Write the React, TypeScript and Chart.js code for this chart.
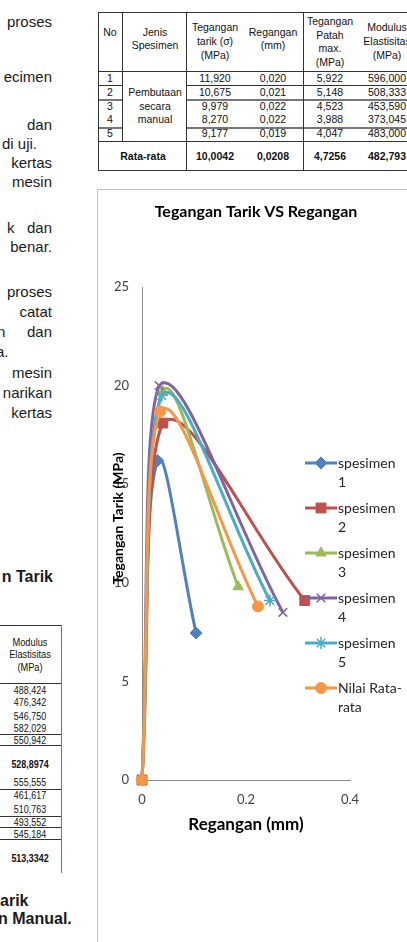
import React, { useEffect, useRef } from 'react';
import { Chart, registerables } from 'chart.js';
import { drawPoint } from 'chart.js/helpers';

Chart.register(...registerables);

// ---- chart data: stress (MPa) against strain (mm) for each specimen ----
const seriesNames = ['spesimen 1', 'spesimen 2', 'spesimen 3', 'spesimen 4', 'spesimen 5', 'Nilai Rata-rata'];

const strainS1 = [0, 0.03, 0.104];
const stressS1 = [0, 16.2, 7.45];

const strainS2 = [0, 0.04, 0.313];
const stressS2 = [0, 18.1, 9.1];

const strainS3 = [0, 0.04, 0.185];
const stressS3 = [0, 19.7, 9.8];

const strainS4 = [0, 0.033, 0.271];
const stressS4 = [0, 20.0, 8.5];

const strainS5 = [0, 0.038, 0.246];
const stressS5 = [0, 19.5, 9.1];

const strainAvg = [0, 0.035, 0.223];
const stressAvg = [0, 18.7, 8.8];

const seriesColors = ['#4F81BD', '#C0504D', '#9BBB59', '#8064A2', '#4BACC6', '#F79646'];
const seriesPointStyles = ['rectRot', 'rect', 'triangle', 'crossRot', 'star', 'circle'];
const seriesPointRadii = [6, 7, 6, 6, 6, 5.5];

const xTickLabels = ['0', '0.2', '0.4'];
const yTickLabels = ['0', '5', '10', '15', '20', '25'];

const chartTitle = 'Tegangan Tarik VS Regangan';
const xAxisTitle = 'Regangan (mm)';
const yAxisTitle = 'Tegangan Tarik (MPa)';

// ---- table contents ----
const tableNo = ['1', '2', '3', '4', '5'];
const tableTarik = ['11,920', '10,675', '9,979', '8,270', '9,177'];
const tableRegangan = ['0,020', '0,021', '0,022', '0,022', '0,019'];
const tablePatah = ['5,922', '5,148', '4,523', '3,988', '4,047'];
const tableModulus = ['596,000', '508,333', '453,590', '373,045', '483,000'];
const tableAverages = ['10,0042', '0,0208', '4,7256', '482,793'];

const sideModulus = [
  '488,424', '476,342', '546,750', '582,029', '550,942', '528,8974',
  '555,555', '461,617', '510,763', '493,552', '545,184', '513,3342',
];
const sideModulusBold = [false, false, false, false, false, true, false, false, false, false, false, true];

const FONT = 'Lato, "Open Sans", sans-serif';

function wrapLabel(ctx: CanvasRenderingContext2D, text: string, maxWidth: number): string[] {
  const tokens = text.match(/[^\s-]+-?\s*|\s+/g) || [text];
  const lines: string[] = [];
  let cur = '';
  for (const tok of tokens) {
    const trial = cur + tok;
    if (cur && ctx.measureText(trial.trimEnd()).width > maxWidth) {
      lines.push(cur.trimEnd());
      cur = tok.trimStart();
    } else {
      cur = trial;
    }
  }
  if (cur.trim()) lines.push(cur.trimEnd());
  return lines;
}

const decorPlugin = {
  id: 'decor',
  afterDraw(chart: any) {
    const { ctx, chartArea } = chart;
    ctx.save();
    ctx.fillStyle = '#000000';
    ctx.textAlign = 'center';
    ctx.textBaseline = 'middle';
    ctx.font = `bold 16px ${FONT}`;
    ctx.fillText(chartTitle, 158, 22);
    ctx.font = `bold 17px ${FONT}`;
    ctx.fillText(xAxisTitle, (chartArea.left + chartArea.right) / 2, 635);
    ctx.font = `bold 14px ${FONT}`;
    ctx.save();
    ctx.translate(20, (chartArea.top + chartArea.bottom) / 2 - 15);
    ctx.rotate(-Math.PI / 2);
    ctx.fillText(yAxisTitle, 0, 0);
    ctx.restore();

    // legend with wrapped entries
    const sampleX0 = 207;
    const sampleX1 = 239;
    const textX = 240;
    ctx.font = `14px ${FONT}`;
    ctx.textAlign = 'left';
    chart.data.datasets.forEach((ds: any, i: number) => {
      const y = 273 + i * 45;
      ctx.strokeStyle = ds.borderColor;
      ctx.lineWidth = ds.borderWidth;
      ctx.beginPath();
      ctx.moveTo(sampleX0, y);
      ctx.lineTo(sampleX1, y);
      ctx.stroke();
      ctx.fillStyle = ds.pointBackgroundColor;
      ctx.strokeStyle = ds.pointBorderColor;
      ctx.lineWidth = ds.pointBorderWidth;
      drawPoint(ctx, {
        pointStyle: ds.pointStyle,
        rotation: 0,
        radius: ds.pointRadius,
        borderWidth: ds.pointBorderWidth,
      } as any, (sampleX0 + sampleX1) / 2, y);
      ctx.fillStyle = '#262626';
      const lines = wrapLabel(ctx, ds.label, 64);
      lines.forEach((ln, k) => ctx.fillText(ln, textX, y + k * 19));
    });
    ctx.restore();
  },
};

function StressStrainChart() {
  const ref = useRef<HTMLCanvasElement>(null);
  useEffect(() => {
    if (!ref.current) return;
    const strains = [strainS1, strainS2, strainS3, strainS4, strainS5, strainAvg];
    const stresses = [stressS1, stressS2, stressS3, stressS4, stressS5, stressAvg];
    const datasets = seriesNames.map((name, i) => ({
      label: name,
      data: strains[i].map((x, k) => ({ x, y: stresses[i][k] })),
      borderColor: seriesColors[i],
      backgroundColor: seriesColors[i],
      borderWidth: 3,
      tension: 0.4,
      showLine: true,
      clip: false,
      pointStyle: seriesPointStyles[i],
      pointRadius: seriesPointRadii[i],
      pointBackgroundColor: seriesColors[i],
      pointBorderColor: seriesColors[i],
      pointBorderWidth: seriesPointStyles[i] === 'crossRot' || seriesPointStyles[i] === 'star' ? 1.5 : 1,
      order: seriesNames.length - 1 - i,
    }));
    const chart = new Chart(ref.current, {
      type: 'scatter',
      data: { datasets },
      options: {
        animation: false,
        responsive: false,
        devicePixelRatio: 1,
        layout: { padding: { left: 0, top: 97, right: 57, bottom: 0 } },
        plugins: {
          legend: { display: false },
          title: { display: false },
          tooltip: { enabled: false },
        },
        font: { family: FONT },
        scales: {
          x: {
            type: 'linear',
            min: 0,
            max: 0.4,
            afterFit: (s: any) => { s.height = 162; },
            grid: { display: false, drawTicks: false },
            border: { display: true, color: '#8c8c8c', width: 1 },
            ticks: {
              stepSize: 0.2,
              padding: 12,
              color: '#404040',
              font: { family: FONT, size: 13 },
              maxRotation: 0,
              callback: (_v: any, idx: number) => xTickLabels[idx],
            },
          },
          y: {
            type: 'linear',
            min: 0,
            max: 25,
            afterFit: (s: any) => { s.width = 44; },
            grid: { display: false, drawTicks: false },
            border: { display: true, color: '#8c8c8c', width: 1 },
            ticks: {
              stepSize: 5,
              padding: 13,
              color: '#404040',
              font: { family: FONT, size: 13 },
              callback: (_v: any, idx: number) => yTickLabels[idx],
            },
          },
        },
      } as any,
      plugins: [decorPlugin],
    });
    return () => chart.destroy();
  }, []);
  return (
    <canvas
      ref={ref}
      width={309}
      height={752}
      style={{ position: 'absolute', left: 98, top: 190, width: 309, height: 752 }}
    />
  );
}

type TextProps = { t: string; y: number; left?: number; right?: number; size?: number; bold?: boolean };
function PageText({ t, y, left, right, size = 15, bold = false }: TextProps) {
  const style: React.CSSProperties = {
    position: 'absolute',
    top: y - size * 0.6,
    fontSize: size,
    lineHeight: `${size * 1.2}px`,
    fontWeight: bold ? 700 : 400,
    whiteSpace: 'nowrap',
    color: '#1a1a1a',
  };
  if (left !== undefined) style.left = left;
  if (right !== undefined) style.right = 407 - right;
  return <div style={style}>{t}</div>;
}

function Cell({ t, x, y, bold = false, size = 10.5, squeeze = 1 }: { t: string; x: number; y: number; bold?: boolean; size?: number; squeeze?: number }) {
  return (
    <div
      style={{
        position: 'absolute',
        left: x,
        top: y,
        transform: `translate(-50%, -50%) scaleX(${squeeze})`,
        fontSize: size,
        lineHeight: `${size + 2}px`,
        fontWeight: bold ? 700 : 400,
        whiteSpace: 'nowrap',
        color: '#111',
      }}
    >
      {t}
    </div>
  );
}

function HLine({ x1, x2, y, color = '#333', w = 1 }: { x1: number; x2: number; y: number; color?: string; w?: number }) {
  return <div style={{ position: 'absolute', left: x1, top: y, width: x2 - x1, height: w, background: color }} />;
}
function VLine({ x, y1, y2, color = '#333', w = 1 }: { x: number; y1: number; y2: number; color?: string; w?: number }) {
  return <div style={{ position: 'absolute', left: x, top: y1, width: w, height: y2 - y1, background: color }} />;
}

const leftLines: TextProps[] = [
  { t: 'proses', y: 22, right: 52 },
  { t: 'ecimen', y: 77, right: 52 },
  { t: 'dan', y: 125, right: 52 },
  { t: 'di uji.', y: 144, left: 2 },
  { t: 'kertas', y: 163, right: 52 },
  { t: 'mesin', y: 182, right: 52 },
  { t: 'k', y: 228, left: 7 },
  { t: 'dan', y: 228, right: 52 },
  { t: 'benar.', y: 247, right: 52 },
  { t: 'proses', y: 292, right: 52 },
  { t: 'catat', y: 312, right: 52 },
  { t: 'n', y: 332, left: -3 },
  { t: 'dan', y: 332, right: 52 },
  { t: 'a.', y: 352, left: -4 },
  { t: 'mesin', y: 373, right: 52 },
  { t: 'narikan', y: 393, right: 52 },
  { t: 'kertas', y: 413, right: 52 },
  { t: 'n Tarik', y: 577, right: 53, size: 16, bold: true },
  { t: 'arik', y: 901, left: 0, size: 16, bold: true },
  { t: 'n Manual.', y: 919, left: -2, size: 16, bold: true },
];

const rowY = [78, 92, 106, 119, 133];
const sideRowY = [690, 702, 716, 728, 740, 764, 782, 795, 809, 822, 834, 858];

export default function App() {
  return (
    <div
      style={{
        position: 'fixed',
        left: 0,
        top: 0,
        width: 407,
        height: 942,
        overflow: 'hidden',
        background: '#ffffff',
        fontFamily: '"Liberation Sans", Arial, sans-serif',
      }}
    >
      {leftLines.map((l, i) => <PageText key={i} {...l} />)}

      {/* results table (top) */}
      <HLine x1={98} x2={420} y={12} />
      <HLine x1={98} x2={420} y={71} />
      <HLine x1={98} x2={122} y={85} />
      <HLine x1={186} x2={420} y={85} />
      <HLine x1={98} x2={122} y={99} color="#777" w={2} />
      <HLine x1={186} x2={420} y={99} color="#777" w={2} />
      <HLine x1={98} x2={122} y={127} color="#777" w={2} />
      <HLine x1={186} x2={420} y={127} color="#777" w={2} />
      <HLine x1={98} x2={420} y={141} />
      <HLine x1={98} x2={420} y={170} />
      <VLine x={98} y1={12} y2={171} />
      <VLine x={122} y1={12} y2={141} />
      <VLine x={186} y1={12} y2={171} />
      <VLine x={303} y1={12} y2={171} />

      <Cell t="No" x={110} y={32} />
      <Cell t="Jenis" x={155} y={32} />
      <Cell t="Spesimen" x={155} y={45} />
      <Cell t="Tegangan" x={215} y={27} />
      <Cell t="tarik (σ)" x={215} y={41} />
      <Cell t="(MPa)" x={215} y={55} />
      <Cell t="Regangan" x={273} y={32} />
      <Cell t="(mm)" x={273} y={45} />
      <Cell t="Tegangan" x={330} y={21} />
      <Cell t="Patah" x={330} y={35} />
      <Cell t="max." x={330} y={48} />
      <Cell t="(MPa)" x={330} y={62} />
      <Cell t="Modulus" x={387} y={27} />
      <Cell t="Elastisitas" x={387} y={41} />
      <Cell t="(MPa)" x={387} y={55} />
      <Cell t="Pembutaan" x={155} y={92} />
      <Cell t="secara" x={155} y={106} />
      <Cell t="manual" x={155} y={119} />
      {rowY.map((y, i) => (
        <React.Fragment key={i}>
          <Cell t={tableNo[i]} x={110} y={y} />
          <Cell t={tableTarik[i]} x={215} y={y} />
          <Cell t={tableRegangan[i]} x={273} y={y} />
          <Cell t={tablePatah[i]} x={330} y={y} />
          <Cell t={tableModulus[i]} x={387} y={y} />
        </React.Fragment>
      ))}
      <Cell t="Rata-rata" x={143} y={156} bold />
      <Cell t={tableAverages[0]} x={215} y={156} bold />
      <Cell t={tableAverages[1]} x={273} y={156} bold />
      <Cell t={tableAverages[2]} x={330} y={156} bold />
      <Cell t={tableAverages[3]} x={387} y={156} bold />

      {/* modulus column of the second table (left) */}
      <HLine x1={0} x2={61} y={625} />
      <HLine x1={0} x2={61} y={683} />
      <HLine x1={0} x2={61} y={734} />
      <HLine x1={0} x2={61} y={745} />
      <HLine x1={0} x2={61} y={789} />
      <HLine x1={0} x2={61} y={816} />
      <HLine x1={0} x2={61} y={827} />
      <HLine x1={0} x2={61} y={839} />
      <VLine x={61} y1={625} y2={873} color="#777" />
      <Cell t="Modulus" x={30} y={642} size={10.5} squeeze={0.88} />
      <Cell t="Elastisitas" x={30} y={654} size={10.5} squeeze={0.88} />
      <Cell t="(MPa)" x={30} y={667} size={10.5} squeeze={0.88} />
      {sideRowY.map((y, i) => (
        <Cell key={i} t={sideModulus[i]} x={30} y={y} size={10.5} bold={sideModulusBold[i]} squeeze={0.85} />
      ))}

      {/* chart panel frame */}
      <HLine x1={97} x2={407} y={189} color="#c4c4c4" />
      <VLine x={97} y1={189} y2={942} color="#c4c4c4" />
      <StressStrainChart />
    </div>
  );
}
